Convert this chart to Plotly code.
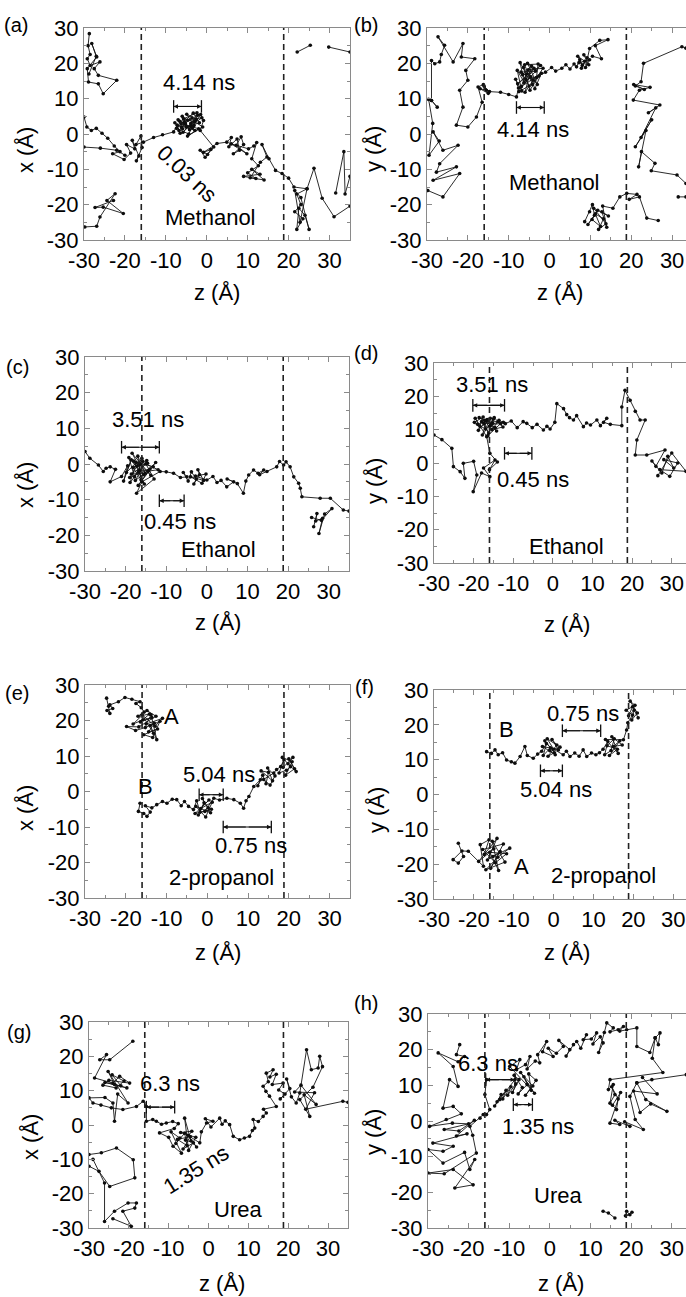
import plotly.graph_objects as go

W, H = 686, 1297

# ------------------------------------------------------------------ data
# trajectories: (z, lateral coordinate) in Angstrom, None = gap
a_traj = [
    (-28.7, 28.4), (-29.0, 25.0), (-28.5, 22.5), (-29.2, 21.3), (-28.5, 19.4), (-26.1, 20.4), (-27.5, 18.5),
    (-26.5, 16.6), (-22.0, 15.2), (-25.3, 11.4), (-26.5, 14.2), (-28.9, 14.7), (-29.2, 18.5), (-26.9, 21.8),
    (-28.1, 25.6), (-27.0, 22.0), (-28.8, 17.0), None,
    (-29.8, -26.3), (-26.9, -26.1), (-26.1, -23.5), (-22.4, -16.9), (-24.4, -18.8), (-20.4, -22.5),
    (-25.3, -20.7), (-27.3, -20.8), (-22.8, -18.8), None,
    (22.1, 23.2), (25.3, 25.1), None, (29.8, 24.6), (35.0, 23.2), None,
    (-30.0, -3.7), (-26.0, -4.0), (-22.0, -4.6), (-20.0, -6.0), None,
    (-30.0, 4.8), (-29.3, 2.0), (-28.2, 1.0), (-27.0, 1.6), (-25.6, 0.2), (-24.2, -1.2), (-22.6, -3.4),
    (-21.2, -5.0), (-23.0, -5.6), (-20.2, -7.2), (-18.6, -5.4), (-19.6, -3.0), (-17.6, -4.2), (-18.2, -1.8),
    (-16.6, -6.2), (-17.2, -7.6), (-15.8, -3.8), (-16.1, -0.6), (-17.3, -3.0), (-15.5, -2.3), (-13.0, -1.0),
    (-10.8, -0.2), (-8.1, 0.6),
    (-7.2, 2.5), (-6.5, 0.2), (-7.8, 3.2), (-5.9, 1.5), (-7.0, 4.0), (-5.2, 2.8), (-6.8, 1.0), (-4.6, 3.9),
    (-6.0, 5.0), (-4.2, 1.2), (-5.5, 3.3), (-3.6, 4.6), (-6.2, 2.0), (-3.1, 2.4), (-4.9, 5.6), (-2.6, 4.1),
    (-5.8, 0.5), (-3.9, 3.0), (-2.2, 5.3), (-4.4, 0.0), (-7.4, 1.6), (-3.3, 5.9), (-1.8, 3.2), (-5.0, 1.9),
    (-2.9, 1.0), (-6.6, 3.6), (-1.2, 4.6), (-4.0, 2.2), (-2.4, 6.0), (-5.7, 4.3), (-3.0, 3.5), (-1.0, 2.0),
    (-4.7, -0.6), (-2.0, 1.5), (-6.3, 2.9), (-3.5, 1.8), (-1.5, 5.5), (-0.8, 3.8), (-1.6, 1.0),
    (1.7, -3.7), (0.2, -5.8), (-1.6, -4.6), (-0.4, -6.6), (1.0, -4.4), (-0.8, -5.2), (2.5, -2.7), (4.9, -2.3),
    (6.0, -1.0), (5.4, -3.6), (7.4, -1.4), (8.0, -4.6), (6.5, -5.6), (9.0, -3.0), (8.4, -0.8), (7.2, -3.2),
    (9.8, -5.6), (6.0, -2.8), (10.2, -4.2), (11.5, -3.4), (12.2, -2.4), (11.0, -7.0), (12.6, -9.0),
    (10.0, -11.0), (12.0, -12.6), (9.0, -12.0), (13.0, -11.4), (11.0, -10.0), (14.0, -13.0), (10.6, -12.4),
    (13.1, -8.0), (14.7, -6.5), (13.5, -3.0), (15.2, -7.0), (16.8, -10.3), (18.4, -11.2), (20.0, -12.5),
    (21.3, -15.0), (24.5, -15.5), (22.0, -17.0), (23.0, -20.0), (21.5, -22.0), (23.5, -24.0), (22.0, -27.0),
    (22.5, -21.0), (24.0, -23.0), (25.0, -27.0), (23.0, -18.0), (21.5, -16.0), (22.8, -25.0), (24.5, -15.5),
    (26.2, -9.7), (28.2, -18.2), (31.1, -23.4), (35.0, -20.4), None,
    (31.5, -16.7), (33.5, -5.0), (33.8, -17.0), (35.0, -12.0),
]

b_traj = [
    (-29.8, -16.0), (-26.1, -17.8), (-22.0, -11.2), (-28.5, -13.1), (-22.8, -9.3), (-27.7, -10.8),
    (-26.9, -8.4), (-22.4, -3.2), (-26.1, -4.6), (-28.5, 0.6), (-27.0, -2.0), (-29.5, -6.0), (-28.6, 3.0),
    (-29.6, 9.8), (-28.9, 9.5), (-27.5, 7.6), (-28.9, 9.5), (-28.9, 20.8), (-28.1, 19.9), (-26.9, 20.4),
    (-26.5, 22.5), (-25.7, 25.1), (-27.3, 27.5), (-23.6, 20.4), (-21.2, 25.6), (-21.6, 21.8), (-18.3, 21.3),
    (-20.5, 18.0), (-20.0, 15.2), (-22.0, 12.4), (-21.2, 7.6), (-22.8, 2.5), (-20.0, 2.0), (-17.9, 4.8),
    (-16.5, 9.0), (-17.5, 13.3), (-16.2, 14.0), (-15.5, 12.4), (-17.0, 12.8), (-15.0, 11.5), (-16.0, 13.5),
    (-14.7, 12.0), (-12.0, 11.8), (-10.0, 11.2), (-8.1, 10.5),
    (-7.6, 13.0), (-8.3, 15.5), (-6.8, 12.2), (-7.9, 18.0), (-6.2, 14.6), (-7.2, 20.2), (-5.6, 17.0),
    (-7.5, 12.0), (-5.0, 13.6), (-6.6, 16.8), (-4.4, 19.2), (-6.0, 11.8), (-4.0, 15.2), (-7.0, 17.5),
    (-3.4, 17.8), (-5.4, 20.0), (-3.0, 14.0), (-6.4, 18.8), (-4.8, 12.4), (-2.6, 16.4), (-5.8, 15.4),
    (-3.8, 18.6), (-7.8, 14.2), (-2.2, 19.4), (-4.6, 16.2), (-6.9, 13.4), (-2.0, 17.2), (-3.6, 12.8),
    (-5.2, 18.2), (-1.6, 18.6), (-4.2, 14.0), (-6.1, 19.6), (-2.8, 19.8), (-3.2, 16.0),
    (-1.0, 17.5), (0.5, 18.8), (1.5, 17.8), (3.0, 18.6), (4.0, 19.6), (5.0, 18.4), (6.0, 19.8),
    (6.6, 19.0), (7.4, 21.0), (8.0, 19.4), (6.9, 22.0), (8.6, 20.6), (7.8, 18.6), (9.2, 21.6), (8.4, 22.4),
    (9.6, 19.6), (7.2, 20.2), (9.8, 21.0), (8.8, 18.8),
    (9.8, 24.2), (12.3, 26.5), (14.3, 26.7), (11.2, 25.0), (12.7, 21.3), (10.5, 22.0), None,
    (8.6, -24.8), (9.8, -22.0), (10.5, -20.0), (11.0, -23.0), (9.4, -25.6), (11.8, -21.6), (10.4, -24.2),
    (12.5, -26.2), (11.2, -22.6), (13.2, -24.0), (12.0, -27.0), (13.8, -25.4), (10.8, -21.0), (14.4, -23.2),
    (12.8, -22.0), (14.0, -26.4), (13.0, -20.4), (15.5, -21.0), (17.2, -17.8), (18.9, -16.8), (21.4, -17.1),
    (19.5, -18.5), (22.0, -17.8), (23.8, -23.8), (26.6, -24.5), None,
    (33.4, 24.3), (32.4, 24.7), (23.0, 20.0), (22.4, 14.8), (21.0, 13.6), (23.2, 12.6), (20.6, 14.0),
    (24.6, 13.2), (22.0, 12.4), (20.5, 9.6), (27.0, 8.2), (24.2, 6.0), (26.0, 7.4), (22.4, -1.0),
    (25.0, 4.0), (21.0, -3.6), (23.6, 1.0), (21.8, -9.3), (22.5, -5.0), (25.8, -8.3), (24.9, -10.4),
    (31.2, -11.6), (33.4, -14.0), None,
    (31.5, -17.8), (33.4, -17.8),
]

c_traj = [
    (-30.0, 3.5), (-28.8, 1.6), (-26.7, -0.3), (-25.5, -2.1), (-24.8, -1.2), (-23.8, -0.8), (-22.5, -1.5),
    (-23.8, -5.0), (-21.0, -3.5),
    (-19.5, -0.5), (-20.5, -4.8), (-18.6, 1.2), (-19.8, -2.4), (-17.4, 0.4), (-18.9, -5.2), (-16.6, -1.8),
    (-19.2, 1.8), (-17.8, -3.6), (-15.8, 0.8), (-18.2, -1.0), (-16.2, -4.4), (-17.0, 2.2), (-15.2, -2.6),
    (-18.6, -2.8), (-14.6, 0.2), (-17.2, -0.6), (-16.0, 1.6), (-19.0, -3.8), (-14.0, -1.4), (-16.8, -2.2),
    (-15.4, -5.6), (-18.0, 0.8), (-13.2, -0.8), (-17.6, -4.6), (-14.8, 1.0), (-16.4, -0.2), (-13.8, -3.2),
    (-18.4, 3.0), (-15.6, -3.0), (-12.6, 0.4), (-16.9, -6.0), (-14.4, -2.0), (-12.0, -1.6), (-15.0, 0.0),
    (-13.0, -4.2), (-17.3, -8.2), (-16.0, -5.0), (-11.5, -2.1), (-10.0, -2.2), (-8.2, -2.6), (-6.5, -3.8),
    (-4.9, -3.6),
    (-5.8, -2.4), (-4.6, -4.8), (-3.8, -2.2), (-2.6, -4.2), (-3.2, -5.6), (-1.8, -3.0), (-2.2, -1.6),
    (-0.8, -4.6), (-4.0, -3.6), (-1.2, -5.4), (-0.2, -2.8), (-2.8, -3.4), (0.0, -4.5),
    (1.5, -3.5), (2.5, -5.2), (3.5, -4.6), (4.9, -6.4), (6.6, -5.0), (5.0, -4.2), (7.5, -5.5), (9.0, -8.2),
    (9.6, -4.8), (10.3, -3.1), (11.5, -1.7), (12.6, -2.6), (14.0, -1.7), (13.0, -3.0), (14.8, -2.1),
    (17.2, -0.8), (17.9, 0.7), (18.9, -0.3), (19.5, 0.6), (20.5, -0.8), (21.4, -3.6), (22.6, -5.4),
    (23.0, -6.8), (23.4, -9.2), (27.9, -9.6), (30.4, -9.6), (33.6, -12.9), (35.0, -13.2), None,
    (26.3, -17.6), (27.1, -13.9), (26.8, -16.0), (28.5, -15.2), (27.6, -19.5), (29.0, -14.0), (30.8, -12.5),
    (28.2, -15.8), (25.8, -15.0),
]

d_traj = [
    (-30.0, 8.4), (-28.0, 7.0), (-25.5, 4.4), (-25.1, -1.1), (-23.4, -2.6), (-22.2, -4.6), (-22.6, -0.1),
    (-20.0, 0.5), (-19.2, -3.6), (-20.1, -8.6), (-18.0, -3.0), (-15.9, -4.1), (-17.5, -1.5), (-14.6, 0.9),
    (-16.0, -2.0), (-14.0, 0.3), (-15.9, 2.9), (-16.7, 7.9), (-19.6, 13.4),
    (-18.4, 11.0), (-19.8, 12.2), (-17.6, 13.8), (-18.8, 9.8), (-16.8, 12.6), (-19.0, 11.6), (-17.0, 10.2),
    (-15.8, 13.4), (-18.0, 12.4), (-16.2, 9.0), (-17.4, 11.8), (-15.2, 12.0), (-18.6, 13.6), (-14.6, 10.6),
    (-16.6, 13.0), (-17.8, 8.4), (-15.0, 13.2), (-16.0, 11.0), (-13.8, 12.4), (-17.2, 12.8), (-14.2, 9.6),
    (-15.6, 11.6), (-13.2, 11.8), (-16.4, 8.2), (-14.8, 13.6), (-12.6, 10.8), (-15.4, 10.0), (-13.6, 12.8),
    (-12.5, 12.2),
    (-12.0, 11.8), (-10.5, 12.6), (-9.0, 10.6), (-7.5, 12.4), (-6.6, 11.9), (-5.2, 10.6), (-4.0, 11.6),
    (-2.4, 9.9), (-1.5, 11.0), (-0.7, 10.2), (0.5, 12.2), (1.0, 17.8), (2.7, 16.3), (3.5, 14.5), (4.2, 13.6),
    (5.2, 12.9), (6.0, 14.2), (7.7, 10.9), (8.5, 12.0), (9.5, 11.4), (11.1, 12.9), (12.0, 11.2),
    (13.6, 13.4), (12.8, 12.2), (14.5, 11.6), (17.4, 11.2), (17.4, 16.8), (18.2, 21.8), (19.5, 18.8),
    (20.8, 15.5), (22.0, 12.9), (23.3, 12.9), (21.2, 6.9), (20.8, 2.4), (23.7, 2.4), (28.3, 3.9),
    (26.0, -1.0), (25.0, 0.6), (27.5, -3.0), (29.0, 2.0), (30.5, -1.5), (28.0, 1.0), (31.5, 0.0),
    (29.5, -4.0), (27.0, -2.0), (33.6, -2.5), (30.0, 3.0), (26.5, -3.8),
]

e_traj = [
    (-24.7, 26.3), (-24.2, 24.0), (-23.9, 22.0), (-24.6, 22.8), (-23.2, 23.4), (-23.9, 24.4), (-21.8, 25.3),
    (-20.2, 26.5), (-18.5, 26.0), (-16.5, 25.3), (-17.5, 24.8), (-16.2, 23.6),
    (-15.5, 22.4), (-17.0, 21.2), (-14.2, 21.8), (-16.4, 19.6), (-13.6, 20.8), (-15.8, 20.2), (-18.2, 19.0),
    (-14.8, 22.8), (-12.6, 21.2), (-16.8, 18.2), (-19.8, 18.3), (-17.6, 17.2), (-15.2, 18.0), (-13.0, 19.2),
    (-14.4, 16.8), (-12.2, 17.6), (-15.6, 16.0), (-13.4, 15.2), (-11.6, 19.8), (-14.0, 18.6), (-12.4, 14.6),
    (-13.8, 21.6), (-15.0, 19.0), (-11.0, 20.6), (-12.8, 18.4), (-16.0, 21.6), (-13.2, 16.4), None,
    (-16.5, -3.3), (-16.9, -5.6), (-15.6, -6.2), (-14.8, -7.0), (-14.0, -5.8), (-15.2, -4.0), (-13.6, -4.6),
    (-12.4, -3.7), (-11.0, -2.8), (-9.9, -3.3), (-8.6, -2.2), (-7.5, -2.3), (-6.4, -4.0), (-5.6, -2.8),
    (-4.6, -4.2), (-3.4, -5.1),
    (-2.6, -2.6), (-1.8, -5.8), (-0.8, -3.2), (-2.2, -6.6), (0.2, -4.6), (-1.2, -2.0), (0.8, -6.0),
    (-2.8, -4.2), (-0.4, -7.2), (1.2, -3.0), (-1.6, -4.8), (0.4, -2.4), (-3.0, -6.2), (1.0, -5.0),
    (-0.6, -5.6), (1.6, -1.9),
    (3.0, -2.4), (4.8, -1.9), (6.5, -2.3), (8.1, -3.3), (8.9, -4.7), (9.5, -2.6), (10.2, -1.4), (11.4, 1.4),
    (13.0, 3.3),
    (12.4, 1.6), (13.6, 4.6), (14.4, 2.2), (15.0, 5.4), (13.2, 5.8), (16.0, 3.0), (14.8, 6.6), (16.6, 4.4),
    (15.4, 1.8), (13.8, 3.4), (16.3, 5.2), (17.0, 6.2), (18.0, 7.0),
    (18.8, 8.9), (17.6, 5.2), (19.4, 6.0), (20.4, 7.0), (18.4, 9.6), (20.8, 8.4), (19.2, 4.6), (21.4, 6.4),
    (20.0, 9.2), (21.8, 5.6), (19.8, 7.8), (21.0, 9.6), (18.6, 6.8),
]

f_traj = [
    (-16.8, 12.3), (-15.6, 11.8), (-14.7, 12.8), (-13.9, 11.4), (-12.8, 12.0), (-11.8, 9.9), (-10.6, 9.4),
    (-9.7, 9.0), (-8.4, 10.9), (-7.2, 13.8), (-6.6, 11.2), (-5.1, 10.4), (-4.0, 11.6),
    (-3.0, 12.4), (-1.8, 14.6), (-2.6, 11.2), (-0.8, 13.4), (-2.2, 15.4), (0.2, 12.0), (-1.4, 11.0),
    (0.8, 14.2), (-0.4, 15.8), (1.2, 12.8), (-2.8, 13.8), (0.4, 11.4), (-1.0, 12.6), (1.6, 13.6),
    (-1.6, 16.0), (0.0, 13.0),
    (2.4, 11.4), (3.2, 12.4), (4.1, 10.9), (5.3, 11.9), (6.4, 11.0), (7.4, 12.8), (8.3, 10.9), (9.5, 11.9),
    (10.6, 11.4), (11.5, 12.0),
    (12.4, 13.0), (13.6, 15.2), (12.8, 11.4), (14.4, 12.6), (15.2, 16.0), (13.4, 14.0), (16.0, 13.0),
    (14.0, 11.2), (16.6, 15.4), (15.0, 13.8), (17.2, 14.2), (14.6, 16.6), (16.2, 11.8), (13.0, 15.8),
    (17.5, 15.7), (18.3, 18.5),
    (18.6, 20.6), (19.8, 22.8), (18.2, 24.2), (20.4, 25.6), (19.2, 26.8), (21.0, 23.4), (19.6, 21.4),
    (20.2, 24.2), (18.8, 22.6), (19.8, 25.2), (21.2, 22.0), None,
    (-23.9, -14.0), (-22.6, -17.8), (-23.9, -19.7), (-25.2, -18.7), (-23.0, -16.2), (-21.4, -16.3),
    (-17.6, -20.6),
    (-18.4, -14.4), (-16.2, -13.0), (-17.4, -17.2), (-15.0, -15.6), (-18.8, -19.2), (-14.2, -12.6),
    (-16.6, -18.8), (-13.4, -16.4), (-15.8, -21.2), (-12.6, -14.2), (-17.8, -15.8), (-14.6, -19.6),
    (-11.8, -17.0), (-16.0, -16.6), (-13.8, -21.8), (-15.4, -13.4), (-12.2, -19.4), (-17.0, -21.6),
    (-14.0, -18.0), (-11.0, -15.4), (-15.2, -17.8),
]

g_traj = [
    (-19.0, 24.4), (-24.8, 19.0), (-27.3, 19.0), (-25.6, 20.5), (-28.6, 13.7), (-24.0, 12.2), (-22.3, 14.2),
    (-19.8, 12.2), (-25.0, 13.0), (-26.5, 11.6), (-23.2, 10.8), (-21.2, 12.8), (-24.2, 14.6), (-22.0, 11.4),
    (-26.0, 12.4), (-20.5, 10.8), (-23.6, 11.8), (-25.2, 15.6), (-20.2, 6.4), (-22.8, 9.0), (-23.6, 1.1),
    (-24.0, 6.4), (-26.0, 8.0), (-30.0, 7.9), (-29.0, 6.4), (-27.0, 5.8), (-24.4, 5.0), (-21.5, 4.5),
    (-18.1, 5.4), (-16.4, 6.9), (-15.6, 5.4),
    (-15.6, 1.1), (-14.0, 1.6), (-13.1, 1.1), (-11.8, 0.2), (-10.6, 0.6), (-9.0, 1.0), (-7.6, 0.4),
    (-8.6, -1.0), (-12.3, -2.3), (-10.0, -3.6), (-8.9, -6.2), (-6.8, -8.2),
    (-9.4, -2.0), (-7.2, -3.8), (-8.2, -5.4), (-6.0, -2.4), (-5.4, -6.0), (-7.8, -4.2), (-4.6, -3.4),
    (-6.4, -7.0), (-3.8, -5.2), (-5.8, -4.4), (-4.2, -1.8), (-7.0, -2.2), (-3.2, -3.6), (-5.0, -7.4),
    (-6.0, 2.0), (-4.4, -4.6), (-3.0, -6.4), (-5.2, -3.0),
    (-2.2, -5.2), (-1.8, -2.0), (-0.5, 0.6), (1.1, 1.1), (-0.8, 1.8), (0.6, -0.6), (2.8, 2.0), (3.4, 0.2),
    (4.2, 1.2), (5.3, 0.1), (6.2, -3.3), (7.8, -4.3), (9.0, -3.8), (10.3, -3.3), (11.0, -1.6), (11.6, -0.9),
    (11.2, 1.6), (12.5, 1.0), (13.7, 2.5), (14.5, 3.5), (13.8, 4.6), (17.0, 5.4), (15.3, 8.4), (14.4, 9.8),
    (13.7, 11.3), (15.0, 12.6), (14.5, 15.1), (16.2, 16.1), (15.4, 14.0), (17.0, 14.8), (16.0, 11.8),
    (18.7, 12.2), (17.6, 10.2), (19.2, 9.0), (18.0, 7.6), (20.4, 10.6), (19.6, 13.4), (20.8, 8.2),
    (22.0, 6.4), (22.9, 9.3), (24.6, 21.9), (25.8, 16.1), (27.5, 16.6), (27.9, 20.0), (28.6, 17.0),
    (26.2, 11.0), (22.9, 7.4), (25.4, 2.5), (24.0, 8.8), (27.0, 6.0), (23.2, 11.6), (21.6, 9.6),
    (26.6, 9.4), (24.4, 4.6), (33.7, 6.9), (35.0, 6.6), None,
    (-30.0, -8.6), (-26.9, -8.1), (-23.1, -6.7), (-18.9, -10.1), (-18.5, -15.4), (-24.8, -17.9),
    (-27.5, -13.5), (-30.0, -12.0), None,
    (-29.0, -10.0), (-26.1, -16.9), (-26.1, -28.1), (-23.6, -25.1), (-20.2, -22.7), (-18.1, -22.7),
    (-18.5, -24.2), (-21.5, -25.1), (-19.4, -29.5), (-24.0, -27.3),
]

h_traj = [
    (-22.2, 21.4), (-23.0, 18.6), (-21.0, 18.1), (-22.6, 16.6), (-27.5, 19.1), (-23.8, 15.3), (-22.6, 9.7),
    (-24.7, 11.6), (-26.3, 3.6), (-23.8, 4.1), (-21.8, 2.0), (-25.5, 0.4), (-29.6, -1.5), (-24.0, -0.6),
    (-20.0, -0.8), (-26.0, -2.4), (-22.4, -2.8), (-18.6, 0.2), (-23.0, -4.2), (-20.4, -3.6), (-28.8, -6.2),
    (-23.8, -7.1), (-26.3, -8.5), (-30.0, -8.0), (-26.3, -11.8), (-21.0, -8.8), (-19.7, -13.6),
    (-18.5, -10.8), (-23.4, -18.8), (-18.9, -17.9), (-23.8, -13.6), (-30.0, -14.6), (-26.0, -14.8),
    (-18.1, -9.0), (-19.0, -4.0), (-19.7, -1.5), (-17.2, 0.8), (-16.4, 1.8), (-15.6, 1.8),
    (-14.8, 3.2), (-16.0, 7.4), (-15.6, 11.6), (-8.6, 11.6), (-12.3, 6.0),
    (-13.6, 4.2), (-12.0, 7.4), (-13.0, 5.4), (-10.8, 8.6), (-11.6, 6.2), (-9.6, 9.6), (-10.4, 7.2),
    (-8.4, 10.4), (-9.2, 8.0), (-7.6, 11.6), (-8.8, 12.8), (-6.8, 9.4), (-7.8, 7.6), (-5.6, 10.2),
    (-6.4, 12.4), (-4.6, 8.6), (-5.2, 13.2), (-3.4, 11.4), (-6.0, 7.2), (-4.2, 9.8), (-7.2, 13.6),
    (-3.8, 7.8),
    (-9.9, 15.3), (-7.4, 17.2), (-8.2, 14.4), (-6.0, 15.8), (-4.9, 18.1), (-5.6, 14.6), (-3.6, 16.8),
    (-2.5, 16.3), (-3.0, 18.6), (-0.8, 22.3), (-1.8, 19.4), (0.8, 18.1), (-0.4, 20.4), (1.6, 19.0),
    (3.3, 20.9), (2.2, 22.6), (4.9, 20.0), (4.0, 18.2), (5.8, 21.4), (6.6, 22.3), (7.6, 20.4), (9.0, 24.2),
    (8.2, 22.8), (10.2, 23.0), (11.5, 24.7), (10.6, 21.6), (12.4, 23.6), (13.1, 21.9), (12.0, 19.2),
    (13.4, 24.8), (14.0, 27.5), (15.6, 26.1), (14.8, 25.0), (16.8, 25.6), (18.1, 26.5), (17.2, 25.2),
    (18.9, 25.6), (21.4, 26.1), (21.4, 20.9), (24.6, 19.2), (25.9, 23.3), (27.1, 24.7), (26.7, 21.4),
    (25.9, 23.3), (25.2, 17.6), (27.8, 13.6),
    (14.8, 11.6), (14.4, 8.8), (15.6, 10.2), (14.8, 5.0), (16.0, 7.4), (15.2, 9.6), (16.8, 6.2),
    (16.4, 3.2), (15.4, 4.4), (17.4, 8.0), (14.8, -0.6), (17.2, -1.0), (16.0, 0.2), (19.7, -1.5),
    (18.4, -0.2), (23.0, -2.4), (21.0, 0.4), (19.7, 6.9), (21.4, 10.7), (25.1, 11.6), (33.6, 13.0), None,
    (21.4, 10.7), (23.6, 6.0), (28.8, 2.7), (24.8, 4.8), (22.2, 2.4), (20.6, 8.4), (26.4, 7.6),
    (22.8, 12.2), None,
    (13.1, -25.3), (14.4, -25.8), (16.0, -27.2), None, (18.9, -25.3), (19.7, -26.3), (18.6, -26.6),
    (20.2, -25.6),
]

# membrane boundaries (dashed lines), z in Angstrom
boundary_z = [-16.0, 18.8]

# axis ticks
major_ticks = [-30, -20, -10, 0, 10, 20, 30]
major_labels = ["-30", "-20", "-10", "0", "10", "20", "30"]
minor_ticks = [-25, -15, -5, 5, 15, 25, 35]

# time scale bars: (z_start, z_end, level)
a_bars = [(-8.1, -1.3, 7.8)]
b_bars = [(-8.1, -1.3, 7.5)]
c_bars = [(-21.0, -11.7, 4.7), (-11.7, -5.6, -10.3)]
d_bars = [(-20.2, -12.2, 17.3), (-12.2, -5.3, 2.9)]
e_bars = [(-2.0, 3.9, -0.9), (3.9, 15.7, -10.0)]
f_bars = [(2.2, 11.8, 18.3), (-3.3, 2.2, 6.8)]
g_bars = [(-15.6, -8.5, 5.2)]
h_bars = [(-15.8, -8.6, 11.6), (-9.0, -4.3, 4.6)]

# text labels: (text, z, lateral, angle)
a_text = [("4.14 ns", -1.8, 14.6, 0), ("0.03 ns", -4.9, -11.2, 43), ("Methanol", 1.0, -23.6, 0)]
b_text = [("4.14 ns", -4.0, 1.2, 0), ("Methanol", 1.2, -13.8, 0)]
c_text = [("3.51 ns", -14.4, 12.4, 0), ("0.45 ns", -6.6, -16.2, 0), ("Ethanol", 2.9, -24.0, 0)]
d_text = [("3.51 ns", -15.4, 23.6, 0), ("0.45 ns", -4.9, -4.9, 0), ("Ethanol", 3.5, -25.0, 0)]
e_text = [("A", -8.7, 21.1, 0), ("B", -15.2, 1.4, 0), ("5.04 ns", 2.8, 4.7, 0), ("0.75 ns", 10.6, -15.3, 0),
          ("2-propanol", 3.6, -24.2, 0)]
f_text = [("B", -11.8, 18.6, 0), ("A", -8.0, -20.6, 0), ("0.75 ns", 7.4, 23.3, 0), ("5.04 ns", 0.7, 1.5, 0),
          ("2-propanol", 12.4, -23.3, 0)]
g_text = [("6.3 ns", -9.7, 12.2, 0), ("1.35 ns", -3.1, -13.0, -32), ("Urea", 7.4, -24.7, 0)]
h_text = [("6.3 ns", -15.2, 16.0, 0), ("1.35 ns", -2.9, -1.5, 0), ("Urea", 2.0, -21.0, 0)]

panel_letters = ["(a)", "(b)", "(c)", "(d)", "(e)", "(f)", "(g)", "(h)"]
y_titles = ["x (Å)", "y (Å)", "x (Å)", "y (Å)", "x (Å)", "y (Å)", "x (Å)", "y (Å)"]
x_title = "z (Å)"

# ------------------------------------------------------------------ layout geometry (pixels)
geom = [
    dict(l=84, r=350, t=28, b=240, zmax=35.0, let=(16, 25), yt=(25, 150), xt=293),
    dict(l=427, r=686, t=28, b=240, zmax=33.4, let=(366, 25), yt=(373, 149), xt=293),
    dict(l=85, r=349, t=357, b=571, zmax=35.0, let=(17, 367), yt=(25, 485), xt=623),
    dict(l=434, r=686, t=363, b=563, zmax=33.6, let=(366, 353), yt=(375, 481), xt=624),
    dict(l=85, r=350, t=685, b=898, zmax=35.0, let=(17, 693), yt=(25, 808), xt=952),
    dict(l=434, r=686, t=690, b=899, zmax=33.2, let=(364, 687), yt=(376, 810), xt=952),
    dict(l=89, r=348, t=1022, b=1228, zmax=35.0, let=(19, 1032), yt=(30, 1137), xt=1283),
    dict(l=428, r=686, t=1014, b=1228, zmax=33.5, let=(366, 1003), yt=(373, 1132), xt=1283),
]

trajs = [a_traj, b_traj, c_traj, d_traj, e_traj, f_traj, g_traj, h_traj]
bars = [a_bars, b_bars, c_bars, d_bars, e_bars, f_bars, g_bars, h_bars]
texts = [a_text, b_text, c_text, d_text, e_text, f_text, g_text, h_text]

FONT = "Liberation Sans, Arial, sans-serif"
AX = "#8a8a8a"
TICK_SIZE = 22
TEXT_SIZE = 22

fig = go.Figure()
annotations = []
shapes = []
layout = {}


def px(x):
    return x / W


def py(y):
    return 1 - y / H


def paper_text(x, y, text, size, angle=0):
    return dict(x=px(x), y=py(y), xref="paper", yref="paper", text=text, showarrow=False,
                xanchor="center", yanchor="middle", textangle=angle,
                font=dict(family=FONT, size=size, color="black"))


for i in range(8):
    g = geom[i]
    n = i + 1
    xa = "x" if n == 1 else f"x{n}"
    ya = "y" if n == 1 else f"y{n}"
    right_col = (i % 2 == 1)

    common = dict(
        automargin=False,
        tickmode="array", tickvals=major_ticks, ticktext=major_labels,
        ticks="inside", ticklen=5, tickwidth=1.2, tickcolor=AX,
        showline=True, linecolor=AX, linewidth=1.3,
        showgrid=False, zeroline=False,
        tickfont=dict(family=FONT, size=TICK_SIZE, color="black"),
        minor=dict(tickmode="array", tickvals=minor_ticks, ticks="inside", ticklen=3, tickwidth=1.1,
                   tickcolor=AX, showgrid=False),
    )
    layout["xaxis" if n == 1 else f"xaxis{n}"] = dict(
        common, domain=[px(g["l"]), px(g["r"])], range=[-30, g["zmax"]],
        anchor=ya, mirror="ticks",
    )
    layout["yaxis" if n == 1 else f"yaxis{n}"] = dict(
        common, domain=[py(g["b"]), py(g["t"])], range=[-30, 30],
        anchor=xa, mirror=(False if right_col else "ticks"),
    )

    pts = trajs[i]
    zs = [p[0] if p is not None else None for p in pts]
    vs = [p[1] if p is not None else None for p in pts]
    fig.add_trace(go.Scatter(
        x=zs, y=vs, mode="lines+markers", xaxis=xa, yaxis=ya,
        line=dict(color="#141414", width=0.9),
        marker=dict(size=3.6, color="#0d0d0d"),
        showlegend=False, hoverinfo="skip", connectgaps=False, cliponaxis=True,
    ))

    for zb in boundary_z:
        shapes.append(dict(type="line", xref=xa, yref=f"{ya} domain", x0=zb, x1=zb, y0=0, y1=1,
                           line=dict(color="#222222", width=1.6, dash="6px,4px")))

    for (z0, z1, lev) in bars[i]:
        fig.add_trace(go.Scatter(
            x=[z0, z1], y=[lev, lev], mode="lines+markers", xaxis=xa, yaxis=ya,
            line=dict(color="#111111", width=1.1),
            marker=dict(symbol="line-ns", size=9, line=dict(width=1.3, color="#111111")),
            showlegend=False, hoverinfo="skip",
        ))
        zm = (z0 + z1) / 2
        for zend in (z0, z1):
            annotations.append(dict(
                x=zend, y=lev, ax=zm, ay=lev, xref=xa, yref=ya, axref=xa, ayref=ya,
                text="", showarrow=True, arrowhead=2, arrowsize=0.8, arrowwidth=1.1,
                arrowcolor="#111111", standoff=0,
            ))

    for (t, zt, vt, ang) in texts[i]:
        annotations.append(dict(
            x=zt, y=vt, xref=xa, yref=ya, text=t, showarrow=False, textangle=ang,
            xanchor="center", yanchor="middle",
            font=dict(family=FONT, size=TEXT_SIZE, color="black"),
        ))

    annotations.append(paper_text(g["let"][0], g["let"][1], panel_letters[i], 20))
    annotations.append(paper_text(g["yt"][0], g["yt"][1], y_titles[i], TEXT_SIZE, -90))
    annotations.append(paper_text(g["l"] + 133, g["xt"], x_title, TEXT_SIZE))

fig.update_layout(
    template="none",
    width=W, height=H, margin=dict(l=0, r=0, t=0, b=0, pad=0),
    paper_bgcolor="white", plot_bgcolor="white",
    showlegend=False, annotations=annotations, shapes=shapes,
    font=dict(family=FONT, color="black"),
    **layout,
)

fig.write_html("out.html")
